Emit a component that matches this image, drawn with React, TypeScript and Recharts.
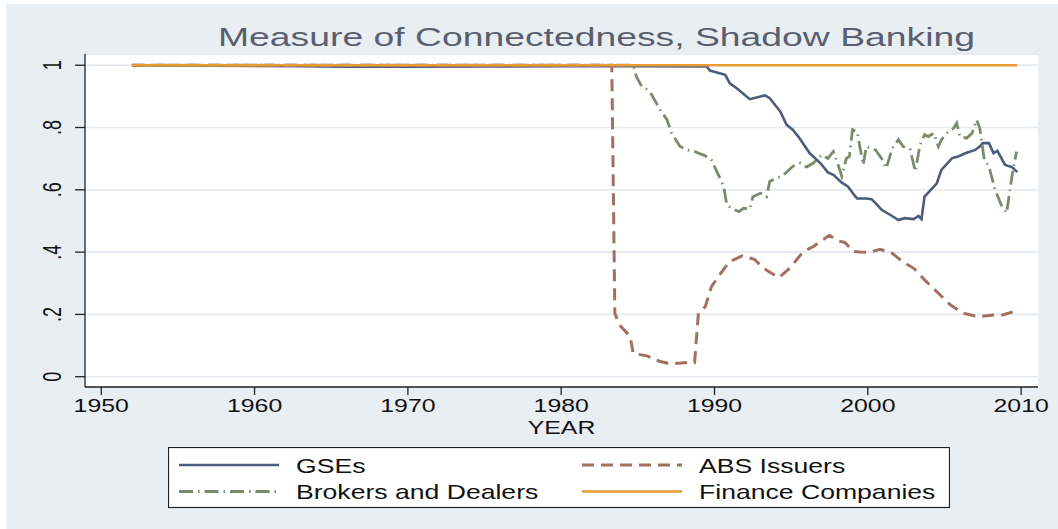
import React from "react";
import { LineChart, Line, XAxis, YAxis, CartesianGrid, Legend, Label } from "recharts";

// [year, value] pairs
const gsePoints: [number, number][] = [
  [1952, 1], [1963, 0.997], [1966, 0.995], [1970, 0.995], [1975, 0.996], [1980, 0.997],
  [1985, 0.997], [1989.5, 0.996], [1989.7, 0.983], [1990.7, 0.969], [1991.0, 0.942],
  [1991.45, 0.926], [1992.3, 0.891], [1993.3, 0.903], [1993.6, 0.894], [1994.3, 0.851],
  [1994.7, 0.809], [1995.1, 0.793], [1995.5, 0.769], [1996.2, 0.718], [1996.9, 0.686],
  [1997.4, 0.656], [1997.75, 0.648], [1998.3, 0.623], [1998.7, 0.611], [1999.2, 0.578],
  [1999.3, 0.572], [1999.9, 0.572], [2000.25, 0.57], [2000.5, 0.557], [2000.9, 0.536],
  [2001.45, 0.52], [2002.0, 0.503], [2002.4, 0.509], [2003.0, 0.506], [2003.3, 0.516],
  [2003.5, 0.506], [2003.7, 0.578], [2004.2, 0.605], [2004.5, 0.621], [2004.8, 0.664],
  [2005.5, 0.702], [2005.9, 0.707], [2006.4, 0.718], [2007.0, 0.728], [2007.3, 0.739],
  [2007.5, 0.75], [2007.9, 0.75], [2008.2, 0.718], [2008.45, 0.725], [2008.95, 0.68],
  [2009.4, 0.673], [2009.75, 0.657],
];

const absPoints: [number, number][] = [
  [1952, 1], [1983.3, 1], [1983.5, 0.204], [1983.8, 0.166], [1984.5, 0.129], [1984.7, 0.075],
  [1985.6, 0.067], [1986.45, 0.049], [1987.2, 0.041], [1988.0, 0.045], [1988.7, 0.045],
  [1988.95, 0.204], [1989.4, 0.225], [1989.8, 0.289], [1990.4, 0.332], [1991.0, 0.37],
  [1991.8, 0.388], [1992.6, 0.377], [1993.2, 0.348], [1994.2, 0.318], [1994.9, 0.348],
  [1995.8, 0.402], [1996.45, 0.418], [1996.9, 0.434], [1997.5, 0.454], [1998.0, 0.437],
  [1998.5, 0.431], [1999.05, 0.402], [1999.5, 0.4], [2000.1, 0.399], [2000.8, 0.409],
  [2001.6, 0.396], [2002.3, 0.368], [2003.0, 0.348], [2003.7, 0.311], [2004.6, 0.268],
  [2005.4, 0.23], [2006.2, 0.204], [2007.2, 0.193], [2008.2, 0.198], [2008.8, 0.198],
  [2009.7, 0.212],
];

const brokerPoints: [number, number][] = [
  [1952, 1], [1984.7, 1], [1984.9, 0.964], [1985.25, 0.932], [1985.7, 0.919], [1985.9, 0.905],
  [1986.45, 0.857], [1986.9, 0.825], [1987.2, 0.782], [1987.75, 0.739], [1988.2, 0.728],
  [1988.7, 0.723], [1989.4, 0.709], [1989.8, 0.696], [1990.1, 0.664], [1990.6, 0.611],
  [1990.8, 0.552], [1991.1, 0.541], [1991.6, 0.53], [1991.9, 0.541], [1992.3, 0.538],
  [1992.5, 0.578], [1993.0, 0.589], [1993.4, 0.578], [1993.6, 0.627], [1994.05, 0.637],
  [1994.5, 0.648], [1995.1, 0.675], [1995.6, 0.686], [1996.0, 0.673], [1996.45, 0.686],
  [1997.0, 0.712], [1997.4, 0.701], [1997.75, 0.723], [1998.1, 0.675], [1998.3, 0.643],
  [1998.6, 0.701], [1998.8, 0.707], [1999.0, 0.793], [1999.3, 0.787], [1999.7, 0.68],
  [1999.9, 0.739], [2000.5, 0.728], [2000.9, 0.701], [2001.2, 0.669], [2001.6, 0.734],
  [2002.0, 0.761], [2002.3, 0.739], [2002.75, 0.73], [2003.1, 0.659], [2003.4, 0.744],
  [2003.7, 0.777], [2003.95, 0.771], [2004.3, 0.782], [2004.6, 0.739], [2004.8, 0.761],
  [2005.15, 0.782], [2005.6, 0.798], [2005.8, 0.814], [2006.0, 0.771], [2006.45, 0.766],
  [2006.8, 0.782], [2007.1, 0.825], [2007.3, 0.798], [2007.6, 0.696], [2007.9, 0.675],
  [2008.3, 0.6], [2008.7, 0.552], [2009.05, 0.525], [2009.4, 0.643], [2009.7, 0.723],
];

const financePoints: [number, number][] = [
  [1952, 1], [2009.75, 1],
];

const xTicks = [1950, 1960, 1970, 1980, 1990, 2000, 2010];
const yTicks = [0, 0.2, 0.4, 0.6, 0.8, 1];
const yTickLabels = ["0", ".2", ".4", ".6", ".8", "1"];

const toRows = (pts: [number, number][]) => pts.map(([year, v]) => ({ year, v }));

const FONT = '"Liberation Sans", Arial, sans-serif';
const STRETCH = 1.38; // the original image is stretched horizontally

const series = [
  { name: "GSEs", rows: toRows(gsePoints), color: "#4b5d7a", width: 2.6, dash: undefined },
  { name: "ABS Issuers", rows: toRows(absPoints), color: "#a3705f", width: 3, dash: "12 7" },
  { name: "Brokers and Dealers", rows: toRows(brokerPoints), color: "#7c8a6c", width: 2.8, dash: "14 5 1.5 5" },
  { name: "Finance Companies", rows: toRows(financePoints), color: "#e99a35", width: 2.6, dash: undefined },
];

function XTick(props: any) {
  const { x, y, payload } = props;
  return (
    <g transform={`translate(${x},${y + 15}) scale(${STRETCH},1)`}>
      <text textAnchor="middle" fontSize={18} fill="#111" fontFamily={FONT}>
        {payload.value}
      </text>
    </g>
  );
}

function YTick(props: any) {
  const { y, payload } = props;
  const idx = yTicks.indexOf(payload.value);
  return (
    <g transform={`translate(61,${y}) scale(${STRETCH},1) rotate(-90)`}>
      <text textAnchor="middle" fontSize={18} fill="#111" fontFamily={FONT}>
        {idx >= 0 ? yTickLabels[idx] : payload.value}
      </text>
    </g>
  );
}

function YearLabel(props: any) {
  const { viewBox } = props;
  const cx = viewBox.x + viewBox.width / 2;
  return (
    <g transform={`translate(${cx},${viewBox.y + 47}) scale(${STRETCH},1)`}>
      <text textAnchor="middle" fontSize={18} fill="#111" fontFamily={FONT}>
        YEAR
      </text>
    </g>
  );
}

function LegendBox() {
  const cols = [11, 414];
  const rowsY = [18, 44.5];
  return (
    <svg width={782} height={62} style={{ display: "block" }}>
      <rect x={0.5} y={0.5} width={781} height={60} fill="#fff" stroke="#222" strokeWidth={1.2} />
      {series.map((s, i) => {
        const cx = cols[i % 2];
        const cy = rowsY[Math.floor(i / 2)];
        return (
          <g key={s.name}>
            <line x1={cx} x2={cx + 100} y1={cy} y2={cy} stroke={s.color} strokeWidth={s.width} strokeDasharray={s.dash} />
            <g transform={`translate(${cx + 117},${cy + 7.5}) scale(1.33,1)`}>
              <text fontSize={20} fill="#111" fontFamily={FONT}>{s.name}</text>
            </g>
          </g>
        );
      })}
    </svg>
  );
}

export default function App() {
  return (
    <div style={{ position: "absolute", left: 0, top: 0, width: 1058, height: 529, background: "#fff", fontFamily: FONT }}>
      <div style={{ position: "absolute", left: 6, top: 4, right: 0, bottom: 0, background: "#e9eef3" }} />
      <svg width={1058} height={60} style={{ position: "absolute", left: 0, top: 0 }}>
        <text x={596.5} y={46} textAnchor="middle" fontSize={26} fill="#5a5f70" fontFamily={FONT} textLength={757} lengthAdjust="spacingAndGlyphs">
          Measure of Connectedness, Shadow Banking
        </text>
      </svg>
      <div style={{ position: "absolute", left: 0, top: 0 }}>
        <LineChart width={1058} height={529} margin={{ top: 54, right: 20, bottom: 82, left: 0 }}>
          <CartesianGrid vertical={false} fill="#ffffff" stroke="#e3e9ef" strokeWidth={1.6} />
          <XAxis
            dataKey="year"
            type="number"
            domain={[1948.94, 2011.1]}
            ticks={xTicks}
            allowDataOverflow
            height={60}
            tickSize={8}
            tick={(p: any) => <XTick {...p} />}
            axisLine={{ stroke: "#222", strokeWidth: 1.3 }}
            tickLine={{ stroke: "#222", strokeWidth: 1.3 }}
          >
            <Label content={(p: any) => <YearLabel {...p} />} />
          </XAxis>
          <YAxis
            type="number"
            domain={[-0.033, 1.036]}
            ticks={yTicks}
            allowDataOverflow
            width={85}
            tickSize={10}
            tick={(p: any) => <YTick {...p} />}
            axisLine={{ stroke: "#222", strokeWidth: 1.3 }}
            tickLine={{ stroke: "#222", strokeWidth: 1.3 }}
          />
          {series.map((s) => (
            <Line
              key={s.name}
              data={s.rows}
              dataKey="v"
              name={s.name}
              type="linear"
              stroke={s.color}
              strokeWidth={s.width}
              strokeDasharray={s.dash}
              dot={false}
              activeDot={false}
              isAnimationActive={false}
            />
          ))}
          <Legend
            layout="vertical"
            align="center"
            verticalAlign="middle"
            wrapperStyle={{ left: 168, top: 447, width: 782, height: 62 }}
            content={() => <LegendBox />}
          />
        </LineChart>
      </div>
    </div>
  );
}
